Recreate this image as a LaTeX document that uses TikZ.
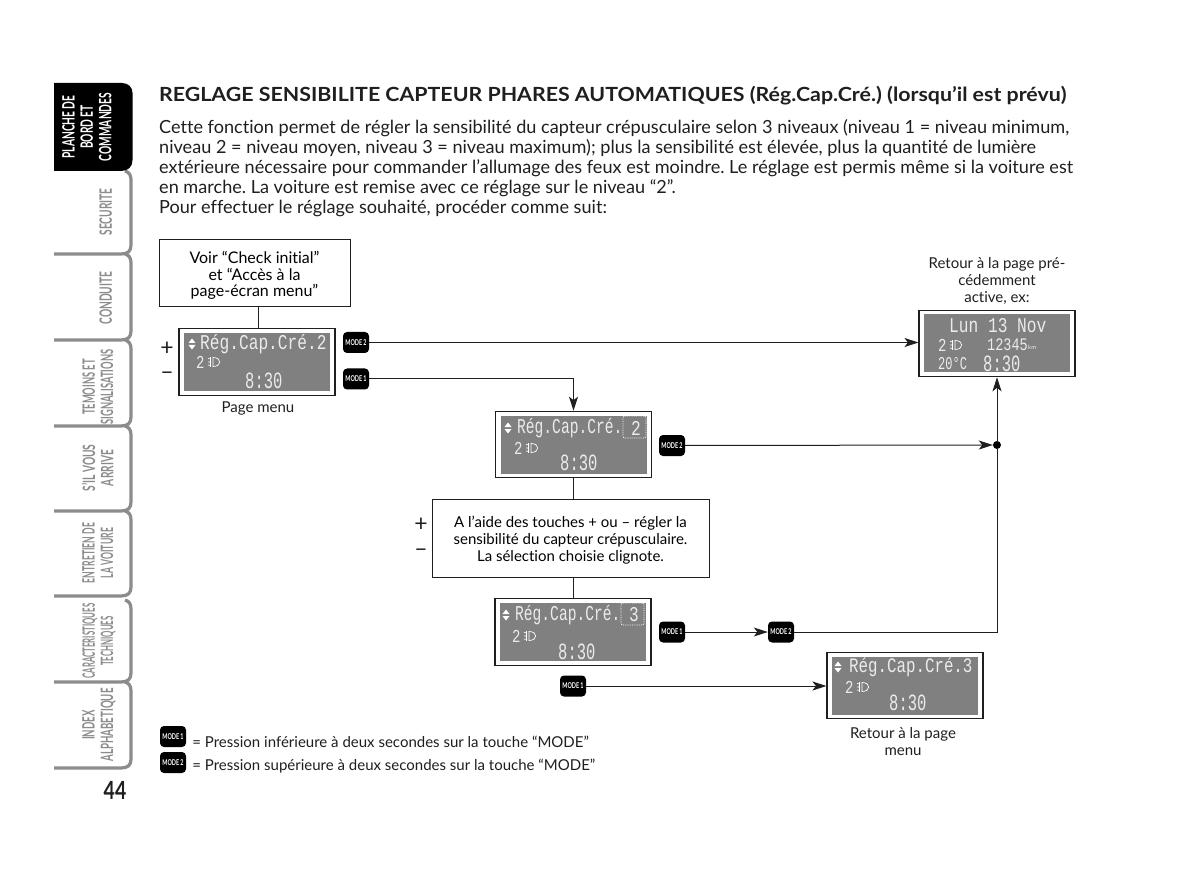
\documentclass[tikz,border=0pt]{standalone}
\usepackage{fontspec}
\setmainfont[Ligatures=NoCommon]{Lato}
\newfontfamily\lcdfont{Liberation Mono}
\usetikzlibrary{positioning}
\usetikzlibrary{arrows.meta}
\frenchspacing

\definecolor{inkdark}{gray}{0.12}
\definecolor{tabgray}{gray}{0.55}
\definecolor{glassgray}{gray}{0.50}

\newcommand{\squeeze}[2][.6]{\scalebox{#1}[1]{\begin{tabular}{@{}c@{}}#2\end{tabular}}}
\newcommand{\modetag}[1]{\scalebox{.68}[1]{MODE #1}}
\newcommand{\lcdtxt}[2][1.3]{\scalebox{1}[#1]{\lcdfont #2}}
\newcommand{\lowerfrom}[1]{\rule{0pt}{#1}}

\tikzset{
    plainbox/.style={draw=inkdark, line width=.9pt, fill=white, inner sep=0pt, align=center, font=\fontsize{15}{16.8}\selectfont},
    plaintext/.style={inner sep=0pt, align=center, text=inkdark, font=\fontsize{15}{16.8}\selectfont},
    lcdframe/.style={draw=inkdark, line width=1.1pt, fill=white, minimum width=156pt, minimum height=66.5pt, inner sep=0pt},
    lcdglass/.style={fill=glassgray, minimum width=146pt, minimum height=58pt, inner sep=0pt},
    lcdtext/.style={text=white!92!black, inner sep=0pt, anchor=west, font=\fontsize{16.2}{18}\selectfont},
    lcdclock/.style={lcdtext, font=\fontsize{15.5}{18}\selectfont},
    lcdlevel/.style={lcdtext, font=\fontsize{14}{14}\selectfont},
    badge/.style={fill=black, rounded corners=4pt, minimum width=26pt, minimum height=21pt, inner sep=0pt, text=white, font=\fontsize{8}{8}\bfseries\selectfont},
    tablabel/.style={rotate=90, inner sep=0pt, text=tabgray, font=\fontsize{17}{15}\bfseries\selectfont},
    signtext/.style={inner sep=0pt, text=inkdark, font=\fontsize{23}{23}\selectfont},
    link/.style={draw=inkdark, line width=1pt},
    flow/.style={link, -{Stealth[length=14pt,width=9pt,inset=3.5pt]}},
    blinkmark/.style={draw=white, densely dotted, rounded corners=2pt, line width=.8pt, minimum width=23pt, minimum height=22pt, inner sep=0pt},
    updown/.pic={
        \fill[white] (-3.5,-1) -- (3.5,-1) -- (0,-5.5) -- cycle;
        \fill[white] (-3.5,1) -- (3.5,1) -- (0,5.5) -- cycle;
    },
    lampicon/.pic={
        \draw[white, line width=.7pt] (0,-4.5) .. controls (9,-4.5) and (9,4.5) .. (0,4.5) -- cycle;
        \draw[white, line width=.7pt] (-5,-3.5) -- (-2,-3) (-5,0) -- (-2,0) (-5,3) -- (-2,3.5);
        \draw[white, line width=.7pt] (-2.5,-5) -- (-2.5,5);
    }
}

\begin{document}
\begin{tikzpicture}[x=1pt, y=-1pt]
    \useasboundingbox[fill=white] (0,0) rectangle (1200,877);

    % Side tabs
    \foreach \t/\b in {600/682, 682/768, 511/596, 426/511, 340/426, 254/340, 171/254} {
        \draw[tabgray, line width=3.2pt] (54,\b) -- (121,\b) .. controls (128,\b) and (131,\b-3) .. (131,\b-9)
            -- (131,\t+9) .. controls (131,\t+4) and (129,\t+1) .. (125,\t);
    }
    \fill[black] (54,83) -- (122,83) .. controls (128,83) and (132.5,87) .. (132.5,93) -- (132.5,160)
        .. controls (132.5,167) and (128,171) .. (121,171) -- (54,171) -- cycle;
    \node[tablabel, text=white] (tabboard) at (89,127) {\squeeze{PLANCHE DE\\[1.5pt]BORD ET\\[1.5pt]COMMANDES}};
    \node[tablabel] (tabsafety) at (108,212) {\squeeze{SECURITE}};
    \node[tablabel] (tabdriving) at (108,298) {\squeeze{CONDUITE}};
    \node[tablabel] (tablights) at (100,387) {\squeeze[.55]{TEMOINS ET\\[1.5pt]SIGNALISATIONS}};
    \node[tablabel] (tabhappen) at (100,468) {\squeeze{S'IL VOUS\\[1.5pt]ARRIVE}};
    \node[tablabel] (tabcare) at (100,553) {\squeeze[.51]{ENTRETIEN DE\\[1.5pt]LA VOITURE}};
    \node[tablabel] (tabspecs) at (100,641) {\squeeze[.46]{CARACTERISTIQUES\\[1.5pt]TECHNIQUES}};
    \node[tablabel] (tabindex) at (100,725) {\squeeze[.57]{INDEX\\[1.5pt]ALPHABETIQUE}};
    \node[inner sep=0pt, text=inkdark, font=\fontsize{25}{25}\bfseries\selectfont] (pagenum) at (115,790) {\scalebox{.78}[1]{44}};

    % Heading and paragraph
    \node[anchor=base west, inner sep=0pt, text=inkdark, font=\fontsize{19.5}{20}\bfseries\selectfont] (heading) at (159,101.5)
        {\scalebox{1.095}[1]{REGLAGE SENSIBILITE CAPTEUR PHARES AUTOMATIQUES (Rég.Cap.Cré.) (lorsqu’il est prévu)}};
    \node[anchor=north west, inner sep=0pt, align=left, text=inkdark, font=\fontsize{18.1}{20}\selectfont] (para) at (159,119)
        {Cette fonction permet de régler la sensibilité du capteur crépusculaire selon 3 niveaux (niveau 1 = niveau minimum,\\
         niveau 2 = niveau moyen, niveau 3 = niveau maximum); plus la sensibilité est élevée, plus la quantité de lumière\\
         extérieure nécessaire pour commander l’allumage des feux est moindre. Le réglage est permis même si la voiture est\\
         en marche. La voiture est remise avec ce réglage sur le niveau “2”.\\
         Pour effectuer le réglage souhaité, procéder comme suit:};

    % Text boxes
    \node[plainbox, minimum width=191pt, minimum height=67pt, font=\fontsize{16}{16.8}\selectfont] (checkbox) at (254.5,272.5)
        {\lowerfrom{18pt}Voir “Check initial”\\et “Accès à la\\page-écran menu”};
    \node[plainbox, minimum width=277pt, minimum height=78pt] (adjustbox) at (570.5,538)
        {\lowerfrom{16pt}A l’aide des touches + ou – régler la\\sensibilité du capteur crépusculaire.\\La sélection choisie clignote.};

    % Screen: page menu
    \node[lcdframe] (menuframe) at (257,362) {};
    \node[lcdglass] (menuglass) at (menuframe.center) {};
    \pic at (192,344) {updown};
    \node[lcdtext] (menutitle) at (200,344) {\lcdtxt{Rég.Cap.Cré.2}};
    \node[lcdlevel] (menulevel) at (196,362) {\lcdtxt{2}};
    \pic at (213,362) {lampicon};
    \node[lcdclock] (menuclock) at (245,381) {\lcdtxt[1.5]{8:30}};

    % Screen: level 2 blinking
    \node[lcdframe] (blinkframe) at (573.5,444.5) {};
    \node[lcdglass] (blinkglass) at (blinkframe.center) {};
    \pic at (508,428) {updown};
    \node[lcdtext, font=\fontsize{14.6}{18}\selectfont] (blinktitle) at (517,428) {\lcdtxt[1.45]{Rég.Cap.Cré.}};
    \node[lcdtext] (blinkdigit) at (631,428) {\lcdtxt{2}};
    \node[blinkmark] (blinkring) at (634.5,427) {};
    \node[lcdlevel] (blinklevel) at (514,448) {\lcdtxt{2}};
    \pic at (531,448) {lampicon};
    \node[lcdclock] (blinkclock) at (560,463) {\lcdtxt[1.5]{8:30}};

    % Screen: level 3 blinking
    \node[lcdframe] (chosenframe) at (573,632) {};
    \node[lcdglass] (chosenglass) at (chosenframe.center) {};
    \pic at (506,615) {updown};
    \node[lcdtext, font=\fontsize{14.6}{18}\selectfont] (chosentitle) at (515,615) {\lcdtxt[1.45]{Rég.Cap.Cré.}};
    \node[lcdtext] (chosendigit) at (629,615) {\lcdtxt{3}};
    \node[blinkmark] (chosenring) at (632.5,614) {};
    \node[lcdlevel] (chosenlevel) at (512,636) {\lcdtxt{2}};
    \pic at (529,636) {lampicon};
    \node[lcdclock] (chosenclock) at (558,652) {\lcdtxt[1.5]{8:30}};

    % Screen: back to menu
    \node[lcdframe] (backframe) at (905,685.5) {};
    \node[lcdglass] (backglass) at (backframe.center) {};
    \pic at (838,667) {updown};
    \node[lcdtext, font=\fontsize{15.8}{18}\selectfont] (backtitle) at (849,667) {\lcdtxt{Rég.Cap.Cré.3}};
    \node[lcdlevel] (backlevel) at (845,687) {\lcdtxt{2}};
    \pic at (862,687) {lampicon};
    \node[lcdclock] (backclock) at (889,703) {\lcdtxt[1.5]{8:30}};

    % Screen: previous page
    \node[lcdframe] (dateframe) at (997,343.5) {};
    \node[lcdglass] (dateglass) at (dateframe.center) {};
    \node[lcdtext] (dateline) at (949,326) {\lcdtxt{Lun 13 Nov}};
    \node[lcdlevel] (datelevel) at (938,345) {\lcdtxt{2}};
    \pic at (955,345) {lampicon};
    \node[lcdtext, font=\fontsize{13.5}{14}\selectfont] (dateodo) at (987,345) {\lcdtxt{12345}};
    \node[lcdtext, font=\fontsize{6}{6}\selectfont] (datekm) at (1028,347) {km};
    \node[lcdtext, font=\fontsize{12}{14}\selectfont] (datetemp) at (938,364) {\lcdtxt[1.5]{20°C}};
    \node[lcdclock] (dateclock) at (983,364) {\lcdtxt[1.5]{8:30}};

    % Button badges
    \node[badge] (menulong) at (356,342.5) {\modetag{2}};
    \node[badge] (menushort) at (356,379) {\modetag{1}};
    \node[badge] (blinklong) at (672,445.5) {\modetag{2}};
    \node[badge] (chosenshort) at (672,632) {\modetag{1}};
    \node[badge] (chosenlong) at (781,632) {\modetag{2}};
    \node[badge] (lowershort) at (573,686) {\modetag{1}};
    \node[badge] (legendshort) at (173,736.5) {\modetag{1}};
    \node[badge] (legendlong) at (173,762.5) {\modetag{2}};

    % Plus and minus
    \node[signtext] (menuplus) at (167,349) {+};
    \node[signtext] (menuminus) at (167,376) {–};
    \node[signtext] (adjustplus) at (421,525) {+};
    \node[signtext] (adjustminus) at (421,553) {–};

    % Labels
    \node[plaintext] (menucaption) at (258,408) {Page menu};
    \node[plaintext] (datecaption) at (997,281) {Retour à la page pré-\\cédemment\\active, ex:};
    \node[plaintext] (backcaption) at (903,741.5) {Retour à la page\\menu};
    \node[plaintext, right=6pt of legendshort, yshift=-5pt] (legendshorttext) {= Pression inférieure à deux secondes sur la touche “MODE”};
    \node[plaintext, right=6pt of legendlong, yshift=-4pt] (legendlongtext) {= Pression supérieure à deux secondes sur la touche “MODE”};

    % Junction
    \node[circle, fill=black, minimum size=8pt, inner sep=0pt] (junction) at (997,445) {};

    % Connectors
    \draw[link] ([xshift=3.5pt]checkbox.south) -- ([xshift=3.5pt]checkbox.south |- menuframe.north);
    \draw[flow] (menulong.east) -- (menulong.east -| dateframe.west);
    \draw[flow] (menushort.east) -| (blinkframe.north);
    \draw[flow] (blinklong.east) -- (junction.west);
    \draw[link] (blinkframe.south) -- (blinkframe.south |- adjustbox.north);
    \draw[link] (chosenframe.north |- adjustbox.south) -- (chosenframe.north);
    \draw[flow] (chosenshort.east) -- (chosenlong.west);
    \draw[link] (chosenlong.east) -| (junction.south);
    \draw[flow] (junction.north) -- (dateframe.south);
    \draw[flow] (lowershort.east) -- (lowershort.east -| backframe.west);
\end{tikzpicture}
\end{document}
